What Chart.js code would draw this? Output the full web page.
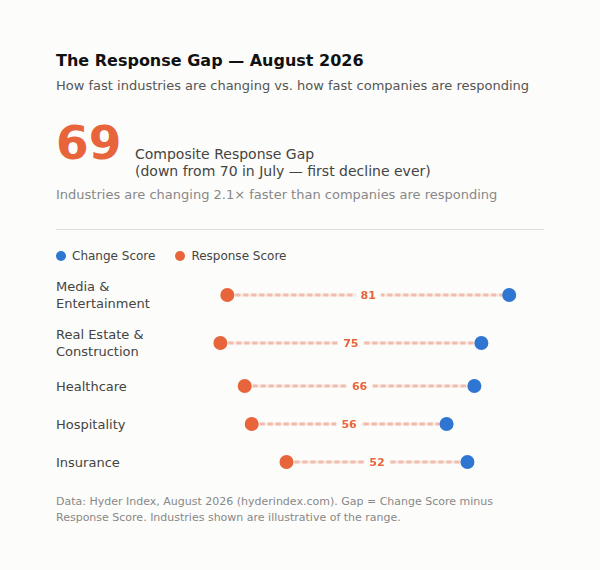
<!DOCTYPE html>
<html>
<head>
<meta charset="utf-8">
<script src="https://cdn.jsdelivr.net/npm/chart.js@4/dist/chart.umd.min.js"></script>
<style>
  body { margin: 0; background: #fcfcfa; font-family: "DejaVu Sans", sans-serif; }
  #wrap { position: relative; width: 600px; height: 570px; }
  .abs { position: absolute; left: 56px; white-space: nowrap; }
  #title { top: 51px; font-size: 16px; font-weight: bold; color: #111; line-height: 20px; }
  #sub { top: 77px; font-size: 13px; color: #555; line-height: 17px; }
  #big { top: 115px; font-size: 47px; font-weight: bold; color: #e8643a; line-height: 56px; }
  #comp { left: 135px; top: 146px; font-size: 14px; color: #444; line-height: 17px; }
  #note { top: 186px; font-size: 13px; color: #888; line-height: 17px; }
  #rule { position: absolute; left: 56px; top: 229px; width: 488px; height: 1px; background: #dedede; }
  #legend { top: 248px; font-size: 12px; color: #444; line-height: 17px; }
  #legend span.dot { display: inline-block; width: 10px; height: 10px; border-radius: 50%; vertical-align: -1px; margin-right: 6px; }
  #legend span.item { margin-right: 20px; }
  #rows { position: absolute; left: 56px; top: 271px; width: 488px; }
  .row { position: relative; min-height: 38px; display: flex; align-items: center; }
  .lab { width: 130px; padding: 7px 0; font-size: 13px; line-height: 17px; color: #444; }
  .plot { position: absolute; left: 133px; top: 0; bottom: 0; width: 362px; }
  #foot { top: 494px; font-size: 11px; color: #888; line-height: 16px; white-space: normal; width: 460px; }
</style>
</head>
<body>
<div id="wrap">
  <div class="abs" id="title">The Response Gap — August 2026</div>
  <div class="abs" id="sub">How fast industries are changing vs. how fast companies are responding</div>
  <div class="abs" id="big">69</div>
  <div class="abs" id="comp">Composite Response Gap<br>(down from 70 in July — first decline ever)</div>
  <div class="abs" id="note">Industries are changing 2.1× faster than companies are responding</div>
  <div id="rule"></div>
  <div class="abs" id="legend"></div>
  <div id="rows"></div>
  <div class="abs" id="foot">Data: Hyder Index, August 2026 (hyderindex.com). Gap = Change Score minus Response Score. Industries shown are illustrative of the range.</div>
</div>
<script>
const industries = [['Media &', 'Entertainment'], ['Real Estate &', 'Construction'], ['Healthcare'], ['Hospitality'], ['Insurance']];
const changeScores = [90, 82, 80, 72, 78];
const responseScores = [9, 7, 14, 16, 26];
const seriesNames = ['Change Score', 'Response Score'];

const BLUE = '#2f76d3';
const ORANGE = '#e8643a';
const BG = '#fcfcfa';

const legend = document.getElementById('legend');
[BLUE, ORANGE].forEach(function (c, i) {
  legend.innerHTML += '<span class="item"><span class="dot" style="background:' + c + '"></span>' + seriesNames[i] + '</span>';
});

// line between the two dots, with the gap value sitting in the middle
const gapLine = {
  id: 'gapLine',
  beforeDatasetsDraw(chart) {
    const ctx = chart.ctx;
    const x = chart.scales.x, y = chart.scales.y;
    const i = chart.options.plugins.gapLine.index;
    const x1 = x.getPixelForValue(responseScores[i]);
    const x2 = x.getPixelForValue(changeScores[i]);
    const yy = y.getPixelForValue(0);
    const gap = changeScores[i] - responseScores[i];
    const mid = (x1 + x2) / 2;
    ctx.save();
    ctx.font = 'bold 11px "DejaVu Sans"';
    const w = ctx.measureText(String(gap)).width + 10;
    ctx.lineWidth = 3;
    ctx.strokeStyle = 'rgba(232,100,58,0.13)';
    ctx.beginPath(); ctx.moveTo(x1, yy); ctx.lineTo(x2, yy); ctx.stroke();
    ctx.setLineDash([5, 3]);
    ctx.strokeStyle = 'rgba(225,110,80,0.36)';
    ctx.beginPath(); ctx.moveTo(x1, yy); ctx.lineTo(x2, yy); ctx.stroke();
    ctx.fillStyle = BG;
    ctx.fillRect(mid - w / 2, yy - 7, w, 14);
    ctx.fillStyle = ORANGE;
    ctx.textAlign = 'center';
    ctx.textBaseline = 'middle';
    ctx.fillText(String(gap), mid, yy + 1);
    ctx.restore();
  }
};

const rows = document.getElementById('rows');
industries.forEach(function (lab, i) {
  const row = document.createElement('div');
  row.className = 'row';
  row.innerHTML = '<div class="lab">' + lab.join('<br>') + '</div><div class="plot"><canvas></canvas></div>';
  rows.appendChild(row);
  const canvas = row.querySelector('canvas');
  new Chart(canvas, {
    type: 'scatter',
    data: {
      datasets: [{
        label: seriesNames[1],
        data: [{ x: responseScores[i], y: 0 }],
        backgroundColor: ORANGE,
        pointRadius: 7,
        pointBorderWidth: 0,
        clip: false
      }, {
        label: seriesNames[0],
        data: [{ x: changeScores[i], y: 0 }],
        backgroundColor: BLUE,
        pointRadius: 7,
        pointBorderWidth: 0,
        clip: false
      }]
    },
    options: {
      responsive: true,
      maintainAspectRatio: false,
      animation: false,
      layout: { padding: 0 },
      events: [],
      scales: {
        x: { display: false, min: 0, max: 100 },
        y: { display: false, min: -1, max: 1 }
      },
      plugins: {
        legend: { display: false },
        tooltip: { enabled: false },
        gapLine: { index: i }
      }
    },
    plugins: [gapLine]
  });
});
</script>
</body>
</html>
